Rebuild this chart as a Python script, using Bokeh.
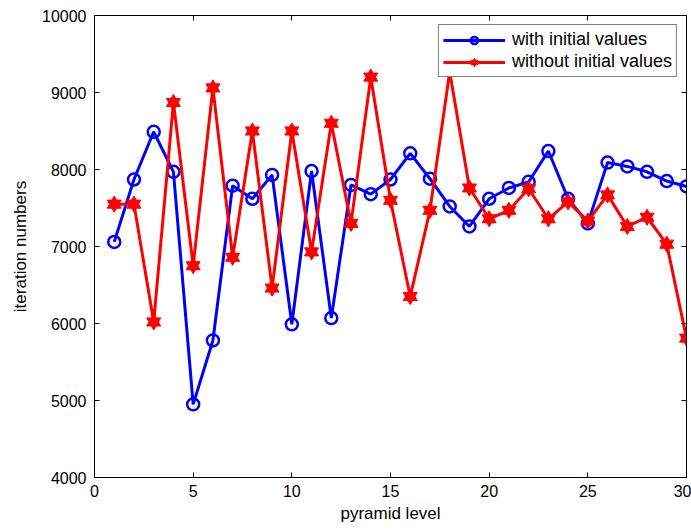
from bokeh.plotting import figure
from bokeh.models import Range1d, LinearAxis, FixedTicker, Legend
from bokeh.embed import file_html
from bokeh.resources import INLINE

# pyramid levels and iteration counts per level
levels = list(range(1, 31))
with_init = [7060, 7870, 8490, 7970, 4950, 5780, 7790, 7620, 7930, 5990,
             7980, 6070, 7800, 7680, 7870, 8210, 7880, 7520, 7260, 7620,
             7760, 7840, 8240, 7620, 7300, 8090, 8040, 7970, 7850, 7780]
without_init = [7550, 7550, 6020, 8870, 6750, 9060, 6860, 8500, 6460, 8500,
                6930, 8600, 7300, 9200, 7600, 6350, 7470, 9270, 7760, 7360,
                7470, 7750, 7360, 7580, 7330, 7670, 7260, 7380, 7030, 5810]

x_ticks = [0, 5, 10, 15, 20, 25, 30]
y_ticks = [4000, 5000, 6000, 7000, 8000, 9000, 10000]

FONT = "Liberation Sans"

p = figure(width=691, height=529, output_backend="svg", toolbar_location=None,
           x_range=Range1d(0, 30), y_range=Range1d(4000, 10000),
           min_border_left=94, min_border_right=5, min_border_top=15,
           min_border_bottom=52)
p.xgrid.visible = False
p.ygrid.visible = False
p.outline_line_color = "black"
p.outline_line_width = 1
p.background_fill_color = "white"
p.border_fill_color = "white"


def style_axis(ax, ticks, show_labels=True):
    ax.ticker = FixedTicker(ticks=ticks)
    ax.major_tick_in = 5
    ax.major_tick_out = 0
    ax.minor_tick_in = 0
    ax.minor_tick_out = 0
    ax.axis_line_color = "black"
    ax.major_tick_line_color = "black"
    ax.major_label_text_font = FONT
    ax.major_label_text_font_size = "16px"
    ax.major_label_text_color = "black"
    ax.axis_label_text_font = FONT
    ax.axis_label_text_font_size = "17px"
    ax.axis_label_text_font_style = "normal"
    ax.axis_label_text_color = "black"
    if not show_labels:
        # mirrored frame axes carry ticks only
        ax.major_label_overrides = {t: "" for t in ticks}
        ax.major_label_standoff = 0


style_axis(p.xaxis[0], x_ticks)
style_axis(p.yaxis[0], y_ticks)
p.xaxis[0].axis_label = "pyramid level"
p.yaxis[0].axis_label = "iteration numbers"
p.xaxis[0].major_label_standoff = 7
p.yaxis[0].major_label_standoff = 8
p.xaxis[0].axis_label_standoff = 4
p.yaxis[0].axis_label_standoff = 9

top_ax = LinearAxis()
style_axis(top_ax, x_ticks, show_labels=False)
p.add_layout(top_ax, "above")
right_ax = LinearAxis()
style_axis(right_ax, y_ticks, show_labels=False)
p.add_layout(right_ax, "right")

blue = "#0000ff"
red = "#ff0000"

b_line = p.line(levels, with_init, line_color=blue, line_width=3)
b_mark = p.scatter(levels, with_init, marker="circle", size=12,
                   fill_color=None, line_color=blue, line_width=2.5)

# six-pointed star markers built from two opposing triangles
r_line = p.line(levels, without_init, line_color=red, line_width=3)
r_up = p.scatter(levels, without_init, marker="triangle", size=14,
                 fill_color=red, line_color=red, line_width=1)
r_dn = p.scatter(levels, without_init, marker="inverted_triangle", size=14,
                 fill_color=red, line_color=red, line_width=1)

legend = Legend(items=[("with initial values", [b_line, b_mark]),
                       ("without initial values", [r_line, r_up, r_dn])],
                location="top_right")
legend.border_line_color = "black"
legend.border_line_width = 1
legend.background_fill_color = "white"
legend.background_fill_alpha = 1
legend.label_text_font = FONT
legend.label_text_font_size = "18px"
legend.label_text_color = "black"
legend.glyph_width = 62
legend.glyph_height = 18
legend.label_height = 18
legend.label_standoff = 7
legend.spacing = 1
legend.padding = 4
legend.margin = 9
p.add_layout(legend)

open("out.html", "w").write(file_html(p, INLINE))
